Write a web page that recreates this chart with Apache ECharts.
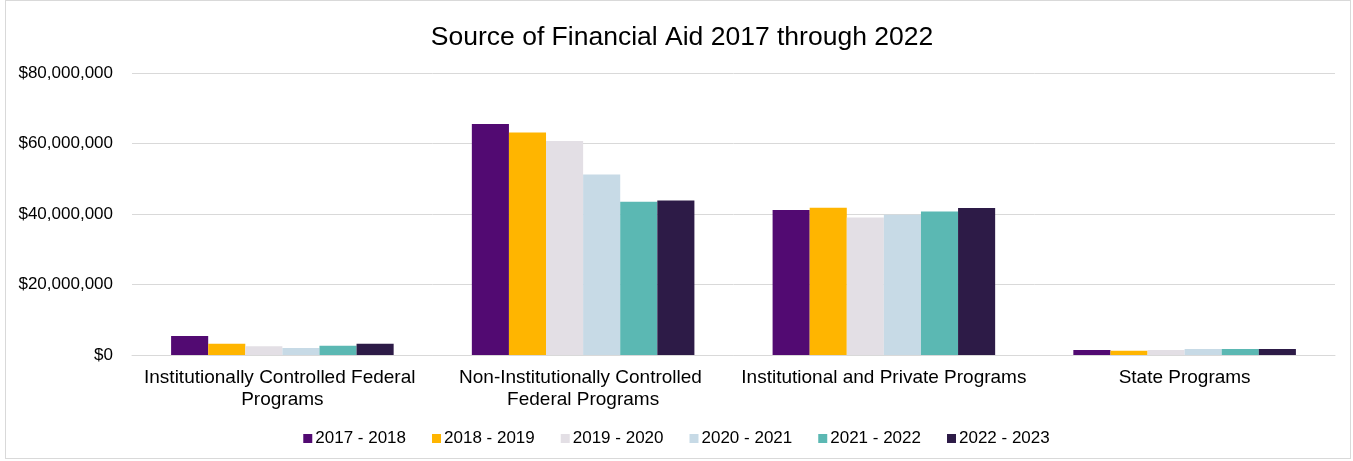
<!DOCTYPE html>
<html><head><meta charset="utf-8">
<script src="https://cdn.jsdelivr.net/npm/echarts@6/dist/echarts.min.js"></script>
<style>
html,body{margin:0;padding:0;background:#fff;}
#c{position:absolute;left:0;top:0;width:1353px;height:461px;}
#b{position:absolute;left:5px;top:0;width:1346px;height:459px;border:1px solid #d9d9d9;box-sizing:border-box;pointer-events:none;}
</style></head>
<body><div id="c"></div><div id="b"></div>
<script>
const categories = ['Institutionally Controlled Federal Programs','Non-Institutionally Controlled Federal Programs','Institutional and Private Programs','State Programs'];
const seriesNames = ['2017 - 2018','2018 - 2019','2019 - 2020','2020 - 2021','2021 - 2022','2022 - 2023'];
const y2017 = [5400000, 65500000, 41100000, 1400000];
const y2018 = [3200000, 63100000, 41800000, 1200000];
const y2019 = [2500000, 60700000, 39000000, 1400000];
const y2020 = [2000000, 51200000, 39800000, 1700000];
const y2021 = [2600000, 43500000, 40700000, 1700000];
const y2022 = [3200000, 43800000, 41700000, 1700000];
const yTicks = [0, 20000000, 40000000, 60000000, 80000000];
const colors = ['#520a72','#ffb500','#e3dfe5','#c7dae6','#5bb8b3','#2d1b47'];
const values = [y2017,y2018,y2019,y2020,y2021,y2022];

const chart = echarts.init(document.getElementById('c'));
chart.setOption({
  animation:false,
  title:{text:'Source of Financial Aid 2017 through 2022',left:677,textAlign:'center',top:19,
    textStyle:{fontFamily:'Liberation Sans',fontSize:26.5,fontWeight:'normal',color:'#000'}},
  legend:{top:425,left:'center',itemWidth:9,itemHeight:9,itemGap:26,icon:'rect',
    textStyle:{fontFamily:'Liberation Sans',fontSize:17,color:'#000',padding:[0,0,0,-2]},
    data:seriesNames},
  grid:{left:132,right:18,top:73,bottom:106,containLabel:false},
  xAxis:{type:'category',data:categories,
    axisLine:{lineStyle:{color:'#d9d9d9',width:1}},axisTick:{show:false},
    axisLabel:{fontFamily:'Liberation Sans',fontSize:19,color:'#000',width:294,overflow:'break',interval:0,margin:12,lineHeight:22}},
  yAxis:{type:'value',min:yTicks[0],max:yTicks[yTicks.length-1],interval:20000000,
    axisLine:{show:false},axisTick:{show:false},
    splitLine:{lineStyle:{color:'#d9d9d9',width:1}},
    axisLabel:{fontFamily:'Liberation Sans',fontSize:17,color:'#000',margin:19,
      formatter:v=>'$'+v.toLocaleString('en-US')}},
  series: seriesNames.map((n,i)=>({name:n,type:'bar',data:values[i],barGap:'0%',barCategoryGap:'26%',
    itemStyle:{color:colors[i]}}))
});
</script></body></html>
